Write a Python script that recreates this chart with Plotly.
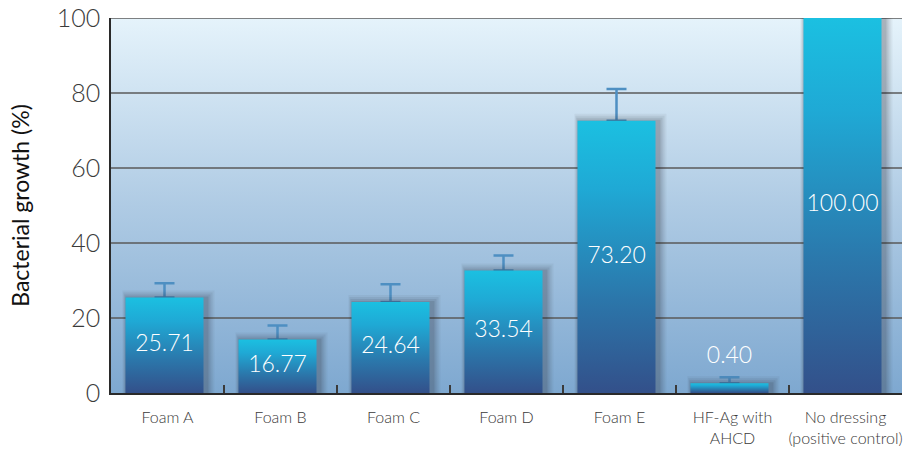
import plotly.graph_objects as go

# ---- data ----
categories = ["Foam A", "Foam B", "Foam C", "Foam D", "Foam E",
              "HF-Ag with<br>AHCD", "No dressing<br>(positive control)"]
value_labels = ["25.71", "16.77", "24.64", "33.54", "73.20", "0.40", "100.00"]
bar_heights = [25.5, 14.3, 24.3, 32.7, 72.6, 2.6, 100.0]
error_tops = [29.3, 18.0, 29.0, 36.7, 81.1, 4.2, None]
y_ticks = [0, 20, 40, 60, 80, 100]

# ---- geometry helpers (pixel -> data unit conversions for styling) ----
W, H = 910, 456
ML, MR, MT, MB = 111, 8, 18, 63
n = len(categories)
px_x = (W - ML - MR) / n          # pixels per category unit
px_y = (H - MT - MB) / 100.0      # pixels per value unit
bar_w = 78 / px_x
bar_shift = -3 / px_x

FONT = "Lato, Open Sans, sans-serif"

fig = go.Figure()

# background gradient
fig.add_trace(go.Scatter(
    x=[-0.5, -0.5, n - 0.5, n - 0.5, -0.5], y=[0, 100, 100, 0, 0],
    mode="lines", line=dict(width=0), fill="toself",
    fillgradient=dict(type="vertical",
                      colorscale=[[0, "#7EA8D0"], [0.5, "#AFCBE4"], [1, "#E5F3FB"]]),
    hoverinfo="skip", showlegend=False))

# grid lines (drawn above background, below bars)
gx, gy = [], []
for t in y_ticks[1:]:
    gx += [-0.5, n - 0.5, None]
    gy += [t, t, None]
fig.add_trace(go.Scatter(x=gx, y=gy, mode="lines",
                         line=dict(color="#5a5a5a", width=1.6),
                         hoverinfo="skip", showlegend=False))

# error bars
ex, ey, ee = [], [], []
for i, (h, e) in enumerate(zip(bar_heights, error_tops)):
    if e is not None:
        ex.append(i + bar_shift)
        ey.append(h)
        ee.append(e - h)
fig.add_trace(go.Scatter(
    x=ex, y=ey, mode="markers", marker=dict(size=1, color="rgba(0,0,0,0)"),
    error_y=dict(type="data", array=ee, arrayminus=[0] * len(ee), symmetric=False,
                 color="#4E8FC2", thickness=2.5, width=10),
    hoverinfo="skip", showlegend=False))

# bar shadows + gradient bars
for i, h in enumerate(bar_heights):
    cx = i + bar_shift
    for k, a in [(8, 0.05), (6, 0.07), (4, 0.09), (2, 0.12)]:
        sx = 3 / px_x
        gxk = k / px_x
        gyk = (k - 1) / px_y
        x0 = cx - bar_w / 2 - gxk * 0.5 + sx * 0.3
        x1 = cx + bar_w / 2 + gxk + sx
        fig.add_trace(go.Scatter(
            x=[x0, x0, x1, x1, x0], y=[0, h + gyk, h + gyk, 0, 0],
            mode="lines", line=dict(width=0), fill="toself",
            fillcolor=f"rgba(30,30,40,{a})", hoverinfo="skip", showlegend=False))
    x0, x1 = cx - bar_w / 2, cx + bar_w / 2
    fig.add_trace(go.Scatter(
        x=[x0, x0, x1, x1, x0], y=[0, h, h, 0, 0],
        mode="lines", line=dict(width=0), fill="toself",
        fillgradient=dict(type="vertical",
                          colorscale=[[0, "#33508A"], [0.35, "#2B77AB"],
                                      [0.75, "#1FA9D5"], [1, "#1BC0E1"]]),
        hoverinfo="skip", showlegend=False))

# value labels
lx = [i + bar_shift for i in range(n)]
ly = [h / 2 if h > 10 else h + 7 for h in bar_heights]
fig.add_trace(go.Scatter(
    x=lx, y=ly, mode="text", text=value_labels,
    textfont=dict(family=FONT, size=23, color="white", weight=300),
    hoverinfo="skip", showlegend=False))

fig.update_layout(
    width=W, height=H,
    margin=dict(l=ML, r=MR, t=MT, b=MB, autoexpand=False),
    paper_bgcolor="white", plot_bgcolor="rgba(0,0,0,0)",
    showlegend=False,
    font=dict(family=FONT, color="#333333"),
)
fig.update_xaxes(
    range=[-0.5, n - 0.5], tickvals=list(range(n)), ticktext=categories,
    ticks="", showgrid=False, zeroline=False, automargin=False,
    showline=True, linecolor="#2a2a2a", linewidth=1.6,
    ticklabelstandoff=9,
    tickfont=dict(family=FONT, size=16, color="#3a3a3a", weight=300),
    minor=dict(tickvals=[i + 0.5 for i in range(n - 1)], ticks="inside",
               ticklen=8, tickcolor="#3a3a3a", tickwidth=1.5),
)
fig.update_yaxes(
    range=[0, 100], tickvals=y_ticks, showgrid=False, zeroline=False,
    automargin=False,
    showline=True, linecolor="#2a2a2a", linewidth=1.6, ticks="",
    ticklabelstandoff=4,
    tickfont=dict(family=FONT, size=25, color="#3a3a3a", weight=300),
    title=dict(text="Bacterial growth (%)", standoff=21,
               font=dict(family=FONT, size=23, color="#111111")),
)

fig.write_html("out.html",
               config={"displayModeBar": False},
               post_script="document.body.style.margin='0px';")
